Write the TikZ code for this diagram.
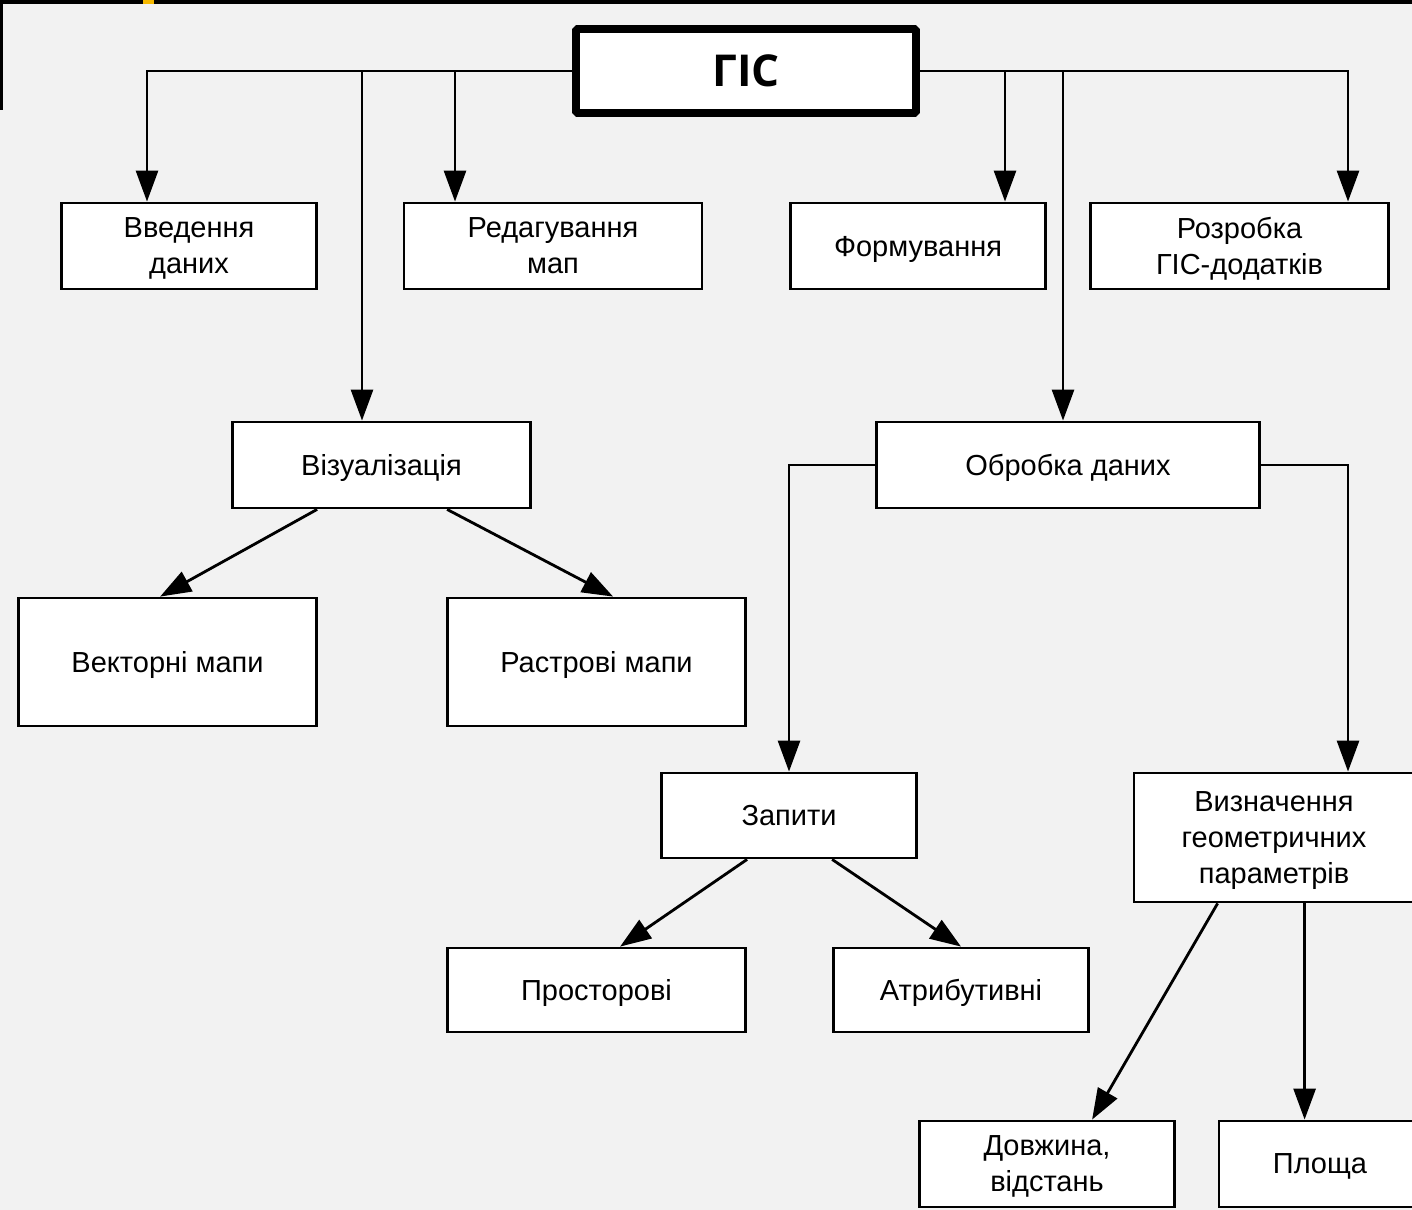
\documentclass[tikz,border=0pt]{standalone}
\usepackage{fontspec}
\setmainfont{Liberation Sans}
\newfontfamily\titlefont{Open Sans}
\usetikzlibrary{arrows.meta}
\definecolor{paper}{HTML}{F2F2F2}
\definecolor{slideyellow}{HTML}{F5B800}

\tikzset{
  block/.style={draw, line width=1.6pt, fill=white, align=center, inner sep=0pt,
    text depth=0pt, font=\fontsize{16.5}{20.5}\selectfont},
  root/.style={block, line width=4.5pt, rounded corners=1pt,
    font=\titlefont\bfseries\fontsize{25}{30}\selectfont},
  arr/.style={line width=1.6pt, -{Triangle[length=0.62cm,width=0.44cm]}},
}

\begin{document}
\begin{tikzpicture}
        % page
        \useasboundingbox (0,0) rectangle (28.24,-24.2);
        \fill[paper] (0,0) rectangle (28.24,-24.2);
        \fill[black] (0,0) rectangle (28.24,-0.08);
        \fill[black] (0,0) rectangle (0.06,-2.2);
        \fill[slideyellow] (2.86,0) rectangle (3.08,-0.08);

        % top level
        \node[root, minimum width=6.8cm, minimum height=1.68cm] (gis) at (14.92,-1.42) {ГІС};

        \node[block, minimum width=5.1cm, minimum height=1.72cm] (vved) at (3.78,-4.92) {Введення\\даних};
        \node[block, minimum width=5.96cm, minimum height=1.72cm] (red) at (11.06,-4.92) {Редагування\\мап};
        \node[block, minimum width=5.1cm, minimum height=1.72cm] (form) at (18.36,-4.92) {Формування};
        \node[block, minimum width=5.96cm, minimum height=1.72cm] (rozr) at (24.79,-4.92) {Розробка\\ГІС-додатків};

        % second level
        \node[block, minimum width=5.96cm, minimum height=1.72cm] (vis) at (7.63,-9.30) {Візуалізація};
        \node[block, minimum width=7.66cm, minimum height=1.72cm] (obr) at (21.36,-9.30) {Обробка даних};

        \node[block, minimum width=5.96cm, minimum height=2.56cm] (vect) at (3.35,-13.24) {Векторні мапи};
        \node[block, minimum width=5.96cm, minimum height=2.56cm] (rast) at (11.93,-13.24) {Растрові мапи};

        \node[block, minimum width=5.1cm, minimum height=1.7cm] (zap) at (15.78,-16.31) {Запити};
        \node[block, minimum width=5.6cm, minimum height=2.58cm] (vyzn) at (25.48,-16.75) {Визначення\\геометричних\\параметрів};

        \node[block, minimum width=5.96cm, minimum height=1.68cm] (pros) at (11.93,-19.80) {Просторові};
        \node[block, minimum width=5.1cm, minimum height=1.68cm] (atr) at (19.22,-19.80) {Атрибутивні};

        \node[block, minimum width=5.1cm, minimum height=1.72cm] (dovzh) at (20.94,-23.28) {Довжина,\\відстань};
        \node[block, minimum width=4.04cm, minimum height=1.72cm] (plo) at (26.40,-23.28) {Площа};

        % columns of the drops
        \coordinate (c1) at (2.94,0);
        \coordinate (c2) at (7.24,0);
        \coordinate (c3) at (9.10,0);
        \coordinate (c4) at (20.10,0);
        \coordinate (c5) at (21.26,0);
        \coordinate (c6) at (26.96,0);

        \draw[arr] (gis.west) -| (vved.north -| c1);
        \draw[arr] (gis.west) -| (vis.north -| c2);
        \draw[arr] (gis.west) -| (red.north -| c3);
        \draw[arr] (gis.east) -| (form.north -| c4);
        \draw[arr] (gis.east) -| (obr.north -| c5);
        \draw[arr] (gis.east) -| (rozr.north -| c6);

        \draw[arr] ([xshift=1.72cm]vis.south west) -- ([xshift=2.86cm]vect.north west);
        \draw[arr] ([xshift=4.32cm]vis.south west) -- ([xshift=3.34cm]rast.north west);

        \draw[arr] (obr.west) -| (zap.north);
        \draw[arr] (obr.east) -| (vyzn.north -| c6);

        \draw[arr] ([xshift=1.74cm]zap.south west) -- ([xshift=3.48cm]pros.north west);
        \draw[arr] ([xshift=3.44cm]zap.south west) -- (atr.north);

        \draw[arr] ([xshift=1.70cm]vyzn.south west) -- ([xshift=3.48cm]dovzh.north west);
        \draw[arr] ([xshift=3.44cm]vyzn.south west) -- ([xshift=3.44cm]vyzn.south west |- plo.north);
\end{tikzpicture}
\end{document}
